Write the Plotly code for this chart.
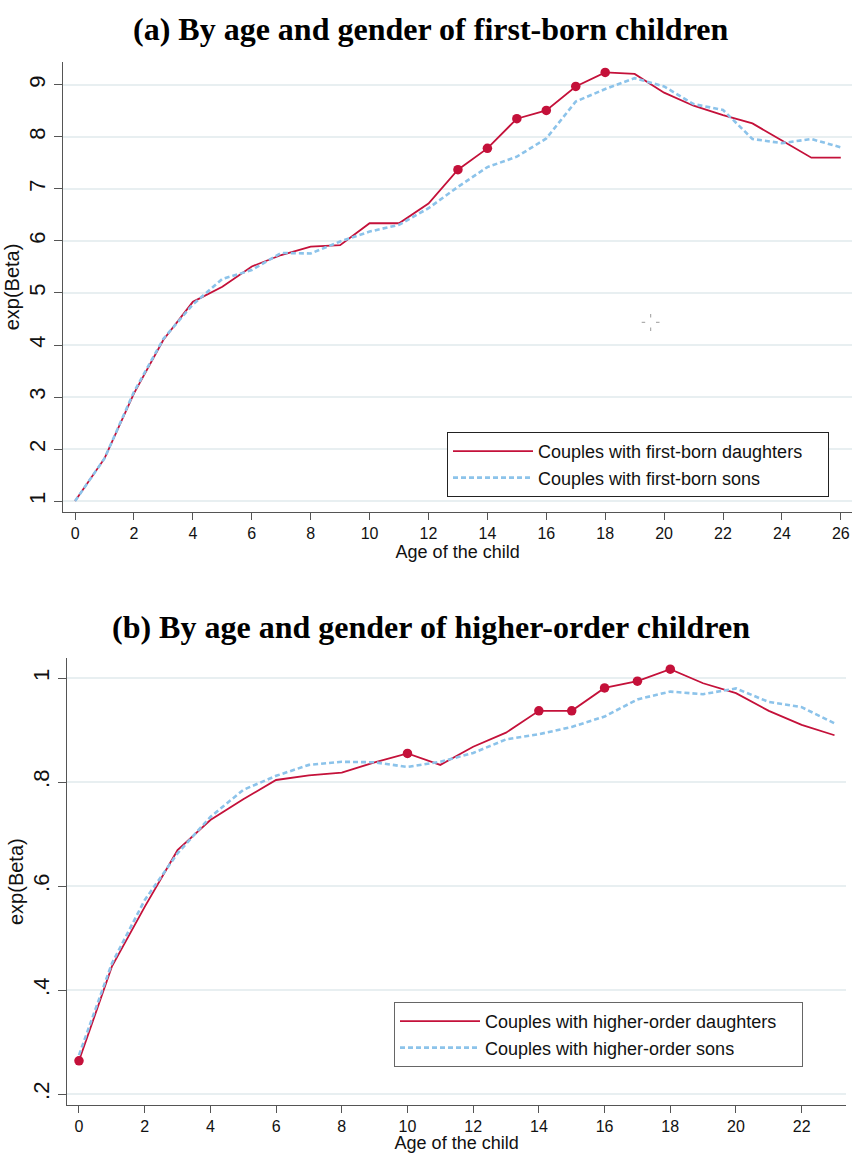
import plotly.graph_objects as go

# ---------- Data ----------
ages_a = list(range(0, 27))
daughters_a = [1.00, 1.82, 3.07, 4.10, 4.83, 5.12, 5.51, 5.73, 5.89, 5.92, 6.34, 6.34, 6.72,
               7.37, 7.78, 8.35, 8.51, 8.97, 9.24, 9.21, 8.85, 8.60, 8.42, 8.26, 7.93, 7.60, 7.60]
sons_a = [1.00, 1.82, 3.10, 4.12, 4.78, 5.27, 5.44, 5.77, 5.76, 5.99, 6.18, 6.31, 6.63,
          7.04, 7.42, 7.62, 7.97, 8.68, 8.92, 9.13, 8.97, 8.63, 8.52, 7.96, 7.88, 7.96, 7.80]
sig_ages_a = [13, 14, 15, 16, 17, 18]

ages_b = list(range(0, 24))
daughters_b = [0.264, 0.445, 0.560, 0.669, 0.727, 0.767, 0.804, 0.813, 0.818, 0.838, 0.855, 0.833,
               0.868, 0.895, 0.937, 0.937, 0.981, 0.994, 1.017, 0.990, 0.971, 0.937, 0.910, 0.890]
sons_b = [0.275, 0.451, 0.573, 0.663, 0.733, 0.785, 0.812, 0.833, 0.839, 0.838, 0.829, 0.839,
          0.856, 0.882, 0.892, 0.906, 0.926, 0.959, 0.974, 0.969, 0.980, 0.954, 0.944, 0.913]
sig_ages_b = [0, 10, 14, 15, 16, 17, 18]

yticks_a = [1, 2, 3, 4, 5, 6, 7, 8, 9]
yticks_b = [0.2, 0.4, 0.6, 0.8, 1.0]
yticklabels_b = [".2", ".4", ".6", ".8", "1"]
xticks_a = list(range(0, 27, 2))
xticks_b = list(range(0, 23, 2))

RED = "#c4113a"
BLUE = "#8cc3ea"
GRID = "#e8eff1"
AXIS = "#555555"
SANS = "Liberation Sans, Arial"
SERIF = "Liberation Serif, Times New Roman"
PAD = "\u00a0" * 4

W, H = 853, 1153


def px(sx):
    return sx / W


def py(sy):
    return 1 - sy / H


fig = go.Figure()

# Panel (a)
fig.add_trace(go.Scatter(x=ages_a, y=daughters_a, mode="lines", name="Couples with first-born daughters" + PAD,
                         line=dict(color=RED, width=1.8), xaxis="x", yaxis="y", legend="legend"))
fig.add_trace(go.Scatter(x=ages_a, y=sons_a, mode="lines", name="Couples with first-born sons",
                         line=dict(color=BLUE, width=2.6, dash="5px,3px"), xaxis="x", yaxis="y",
                         legend="legend"))
fig.add_trace(go.Scatter(x=sig_ages_a, y=[daughters_a[a] for a in sig_ages_a], mode="markers",
                         marker=dict(color=RED, size=9.5), showlegend=False, xaxis="x", yaxis="y"))

# Panel (b)
fig.add_trace(go.Scatter(x=ages_b, y=daughters_b, mode="lines",
                         name="Couples with higher-order daughters" + PAD,
                         line=dict(color=RED, width=1.8), xaxis="x2", yaxis="y2", legend="legend2"))
fig.add_trace(go.Scatter(x=ages_b, y=sons_b, mode="lines", name="Couples with higher-order sons",
                         line=dict(color=BLUE, width=2.6, dash="5px,3px"), xaxis="x2", yaxis="y2",
                         legend="legend2"))
fig.add_trace(go.Scatter(x=sig_ages_b, y=[daughters_b[a] for a in sig_ages_b], mode="markers",
                         marker=dict(color=RED, size=9.5), showlegend=False, xaxis="x2", yaxis="y2"))

xaxis_common = dict(showline=True, linecolor=AXIS, linewidth=1.2, ticks="outside", ticklen=7,
                    tickcolor=AXIS, tickwidth=1, zeroline=False, showgrid=False,
                    tickfont=dict(family=SANS, size=16, color="#111111"))
yaxis_common = dict(showline=True, linecolor=AXIS, linewidth=1.2, ticks="outside", ticklen=8,
                    tickcolor=AXIS, tickwidth=1, zeroline=False, showgrid=True,
                    gridcolor=GRID, gridwidth=1.5, tickangle=-90,
                    tickfont=dict(family=SANS, size=22, color="#111111"))
xtitle = dict(text="Age of the child", standoff=1, font=dict(family=SANS, size=18, color="#111111"))
ytitle = dict(text="exp(Beta)", standoff=0, font=dict(family=SANS, size=20, color="#111111"))

fig.update_layout(
    width=W, height=H,
    margin=dict(l=0, r=0, t=0, b=0, autoexpand=False),
    paper_bgcolor="white", plot_bgcolor="white",
    showlegend=True,
    xaxis=dict(domain=[px(63.3), px(852)], range=[-0.40, 26.38], tickvals=xticks_a,
               anchor="y", title=xtitle, **xaxis_common),
    yaxis=dict(domain=[py(512), py(62)], range=[0.79, 9.44], tickvals=yticks_a,
               anchor="x", title=ytitle, **yaxis_common),
    xaxis2=dict(domain=[px(67.3), px(846)], range=[-0.356, 23.35], tickvals=xticks_b,
                anchor="y2", title=xtitle, **xaxis_common),
    yaxis2=dict(domain=[py(1105), py(658.3)], range=[0.179, 1.038], tickvals=yticks_b,
                ticktext=yticklabels_b, anchor="x2", title=ytitle, **yaxis_common),
    legend=dict(x=px(447), y=py(432), xanchor="left", yanchor="top",
                bordercolor="#222222", borderwidth=1, bgcolor="white",
                font=dict(family=SANS, size=18, color="#111111"),
                itemwidth=80, tracegroupgap=0),
    legend2=dict(x=px(394), y=py(1002), xanchor="left", yanchor="top",
                 bordercolor="#666666", borderwidth=1, bgcolor="white",
                 font=dict(family=SANS, size=18, color="#111111"),
                 itemwidth=80, tracegroupgap=0),
    annotations=[
        dict(text="<b>(a) By age and gender of first-born children</b>", x=px(430),
             y=py(29), xref="paper", yref="paper", showarrow=False, xanchor="center", yanchor="middle",
             font=dict(family=SERIF, size=32, color="black")),
        dict(text="<b>(b) By age and gender of higher-order children</b>", x=px(431),
             y=py(627), xref="paper", yref="paper", showarrow=False, xanchor="center", yanchor="middle",
             font=dict(family=SERIF, size=32, color="black")),
    ],
    shapes=[
        # small cursor artefact visible in the original screenshot
        dict(type="line", xref="paper", yref="paper", x0=px(650.7), x1=px(650.7), y0=py(314), y1=py(317.5),
             line=dict(color="#9a9a9a", width=1)),
        dict(type="line", xref="paper", yref="paper", x0=px(650.7), x1=px(650.7), y0=py(327.5), y1=py(331),
             line=dict(color="#9a9a9a", width=1)),
        dict(type="line", xref="paper", yref="paper", x0=px(641.7), x1=px(645.2), y0=py(322.3), y1=py(322.3),
             line=dict(color="#9a9a9a", width=1)),
        dict(type="line", xref="paper", yref="paper", x0=px(656), x1=px(659.5), y0=py(322.3), y1=py(322.3),
             line=dict(color="#9a9a9a", width=1)),
    ],
)

fig.write_html("out.html", config={"displayModeBar": False},
               post_script="document.body.style.margin='0';document.body.style.overflow='hidden';")
